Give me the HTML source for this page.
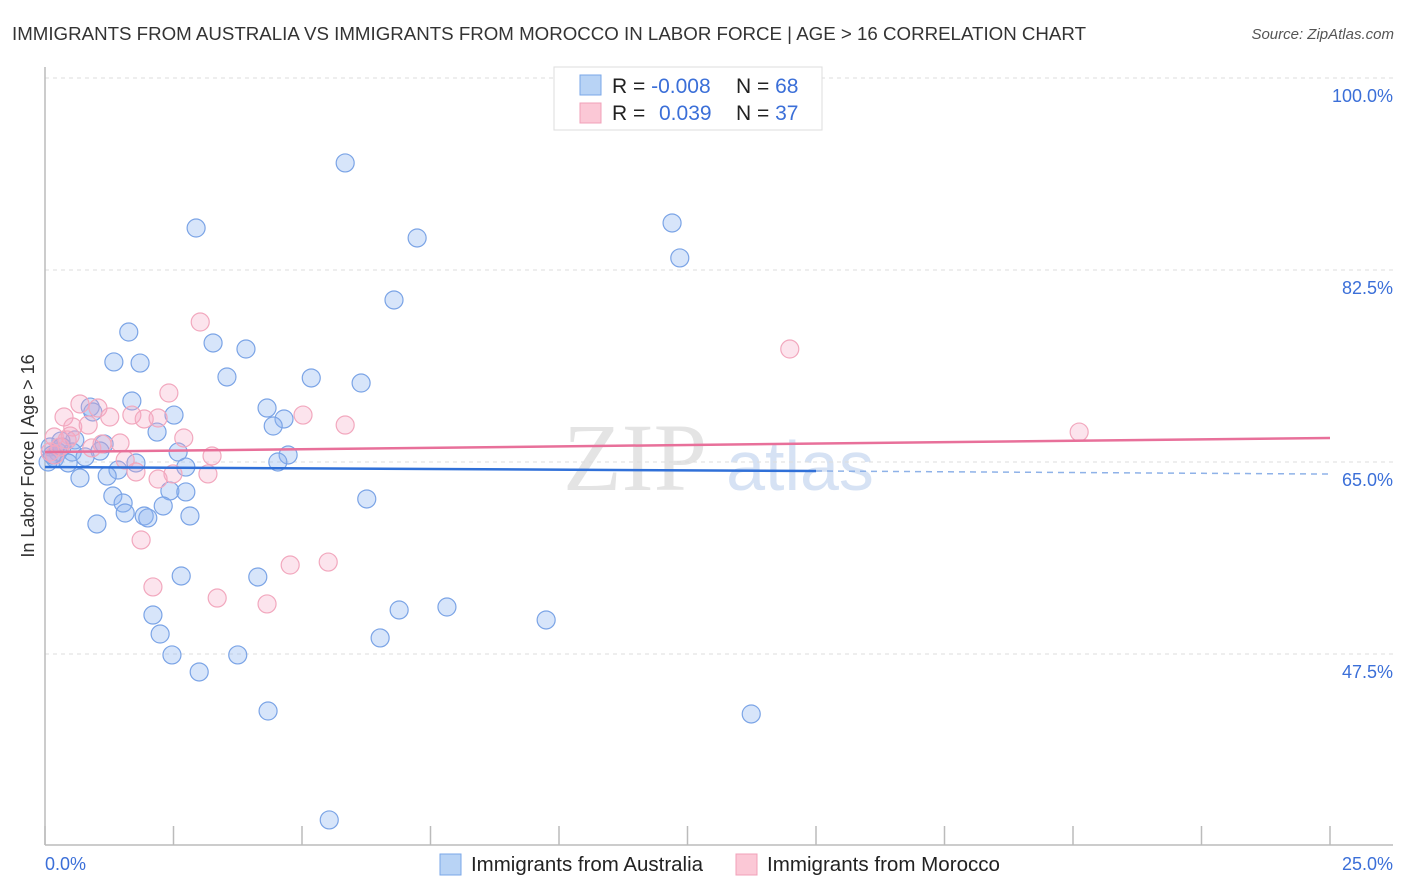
<!DOCTYPE html>
<html><head><meta charset="utf-8">
<style>
body{margin:0;background:#fff;font-family:"Liberation Sans",sans-serif;}
svg{display:block}
</style></head>
<body>
<svg id="chart" width="1406" height="892">
<text x="12" y="40" font-size="18" fill="#333" textLength="1074" lengthAdjust="spacingAndGlyphs">IMMIGRANTS FROM AUSTRALIA VS IMMIGRANTS FROM MOROCCO IN LABOR FORCE | AGE &gt; 16 CORRELATION CHART</text>
<text x="1394" y="39" font-size="15" fill="#555" font-style="italic" text-anchor="end">Source: ZipAtlas.com</text>
<text x="635" y="490" font-size="96" fill="#e4e4e4" font-family="Liberation Serif,serif" text-anchor="middle">ZIP</text>
<text x="800" y="490" font-size="70" fill="#d6e2f4" text-anchor="middle">atlas</text>
<g id="grid"></g>
<g id="pts"></g>
<g id="trend"></g>
<g>
<rect x="554" y="67" width="268" height="63" fill="#fff" stroke="#ddd"/>
<rect x="580" y="75" width="21" height="20" fill="#b8d3f5" stroke="#7aa7e8"/>
<rect x="580" y="103" width="21" height="20" fill="#fbc8d6" stroke="#f0a0b8"/>
<text x="612" y="93" font-size="21" fill="#222">R = <tspan fill="#3b6fd8">-0.008</tspan></text>
<text x="736" y="93" font-size="21" fill="#222">N = <tspan fill="#3b6fd8">68</tspan></text>
<text x="612" y="120" font-size="21" fill="#222">R = <tspan fill="#3b6fd8" x="659">0.039</tspan></text>
<text x="736" y="120" font-size="21" fill="#222">N = <tspan fill="#3b6fd8">37</tspan></text>
</g>
<text x="45" y="870" font-size="18" fill="#3b6fd8">0.0%</text>
<text x="1393" y="870" font-size="18" fill="#3b6fd8" text-anchor="end">25.0%</text>
<text transform="translate(34,456) rotate(-90)" font-size="18" fill="#333" text-anchor="middle">In Labor Force | Age &gt; 16</text>
<rect x="440" y="854" width="21" height="21" fill="#b8d3f5" stroke="#7aa7e8"/>
<text x="471" y="871" font-size="20" fill="#222" textLength="232" lengthAdjust="spacingAndGlyphs">Immigrants from Australia</text>
<rect x="736" y="854" width="21" height="21" fill="#fbc8d6" stroke="#f0a0b8"/>
<text x="767" y="871" font-size="20" fill="#222" textLength="233" lengthAdjust="spacingAndGlyphs">Immigrants from Morocco</text>
</svg>
<script>
const yTicks=[100,82.5,65,47.5];
const yTickLabels=["100.0%","82.5%","65.0%","47.5%"];
const xTicks=[0,2.5,5,7.5,10,12.5,15,17.5,20,22.5,25];
const blueX=[5.84,2.94,7.24,12.20,12.35,6.79,1.63,3.27,3.91,1.34,1.85,3.54,5.18,6.15,1.69,0.88,0.93,2.51,4.32,4.65,4.44,2.18,0.58,0.31,0.10,0.25,1.15,2.59,1.07,0.53,0.19,4.73,0.78,0.45,1.77,2.74,1.42,4.53,1.21,0.68,1.32,2.43,2.74,1.52,2.30,1.56,1.93,2.00,2.82,6.26,1.01,2.65,4.14,2.10,6.89,7.82,9.75,2.24,6.52,2.47,3.75,3.00,4.34,13.74,5.53,0.06,0.14,0.33];
const blueY=[92.26,86.33,85.42,86.79,83.60,79.77,76.85,75.85,75.30,74.12,74.02,72.75,72.66,72.20,70.56,70.01,69.56,69.28,69.92,68.92,68.28,67.73,67.01,66.91,66.37,65.91,66.64,65.91,66.00,65.91,65.36,65.64,65.46,64.91,64.91,64.54,64.27,65.00,63.72,63.54,61.90,62.36,62.27,61.26,60.99,60.35,60.08,59.90,60.08,61.63,59.35,54.61,54.52,51.05,51.51,51.78,50.60,49.32,48.96,47.41,47.41,45.86,42.30,42.03,32.37,65.00,65.64,66.37];
const pinkX=[3.02,14.49,2.41,0.68,1.03,0.37,1.26,1.69,2.20,1.93,5.02,5.84,0.54,0.84,20.12,0.18,2.70,1.46,0.43,0.91,3.25,0.19,1.56,1.77,2.49,3.17,2.20,1.87,2.10,4.77,5.51,3.35,4.32,0.29,0.10,0.49,1.11];
const pinkY=[77.76,75.30,71.29,70.29,69.92,69.10,69.10,69.28,69.01,68.92,69.28,68.37,68.19,68.37,67.73,67.28,67.19,66.73,67.01,66.28,65.55,65.64,65.18,64.09,63.91,63.91,63.45,57.89,53.61,55.61,55.88,52.60,52.06,66.37,65.91,67.37,66.64];
const blueTrend=[64.54,64.18,63.9]; // at x=0, 15, 25
const pinkTrend=[65.91,67.19]; // at x=0, 25
const NS="http://www.w3.org/2000/svg";
const X=v=>45+v*51.4;
const Y=v=>462-(v-65)*10.97;
function mk(t,a,p){const e=document.createElementNS(NS,t);for(const k in a)e.setAttribute(k,a[k]);p.appendChild(e);return e;}
const grid=document.getElementById('grid');
yTicks.forEach((t,i)=>{
 const l=mk('line',{x1:45,x2:1393,y1:Y(t),y2:Y(t),stroke:'#ddd','stroke-dasharray':'4,4'},grid);
 
 
 const tx=mk('text',{x:1393,y:Y(t)+24,'font-size':18,fill:'#3b6fd8','text-anchor':'end'},grid);
 tx.textContent=yTickLabels[i];
 
 
});
const ax=mk('line',{x1:45,x2:45,y1:67,y2:845,stroke:'#bbb','stroke-width':1.5},grid);


const bx=mk('line',{x1:45,x2:1393,y1:845,y2:845,stroke:'#bbb','stroke-width':1.5},grid);


xTicks.forEach(t=>{
 const l=mk('line',{x1:X(t),x2:X(t),y1:826,y2:845,stroke:'#bbb','stroke-width':1.5},grid);
 
 
});
const pts=document.getElementById('pts');
blueX.forEach((x,i)=>{
 const c=mk('circle',{cx:X(x),cy:Y(blueY[i]),r:9,fill:'rgba(140,180,240,0.35)',stroke:'#7ba4e6','stroke-width':1.2},pts);
 
 
});
pinkX.forEach((x,i)=>{
 const c=mk('circle',{cx:X(x),cy:Y(pinkY[i]),r:9,fill:'rgba(245,165,195,0.3)',stroke:'#f2a8be','stroke-width':1.2},pts);
 
 
});
const tr=document.getElementById('trend');
const b1=mk('line',{x1:X(0),y1:Y(blueTrend[0]),x2:X(15),y2:Y(blueTrend[1]),stroke:'#3070d8','stroke-width':2.5},tr);


const b2=mk('line',{x1:X(15),y1:Y(blueTrend[1]),x2:X(25),y2:Y(blueTrend[2]),stroke:'#8fb2e8','stroke-width':1.5,'stroke-dasharray':'6,5'},tr);


const p1=mk('line',{x1:X(0),y1:Y(pinkTrend[0]),x2:X(25),y2:Y(pinkTrend[1]),stroke:'#e8709a','stroke-width':2.5},tr);


</script>
</body></html>
